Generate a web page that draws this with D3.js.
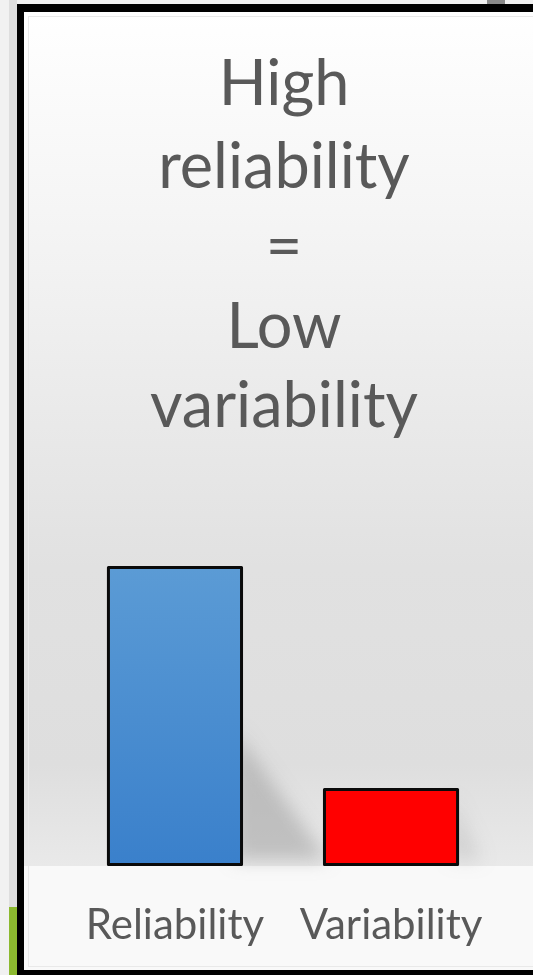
<!DOCTYPE html>
<html>
<head>
<meta charset="utf-8">
<script src="https://cdn.jsdelivr.net/npm/d3@7"></script>
<style>
  html, body { margin: 0; padding: 0; background: #f1f1f1; }
  svg { display: block; }
</style>
</head>
<body>
<svg id="chart" width="533" height="975"></svg>
<script>
// Chart content
const categories = ["Reliability", "Variability"];
const values = [100, 26];
const titleLines = ["High", "reliability", "=", "Low", "variability"];

const W = 533, H = 975;
const svg = d3.select("#chart");
const defs = svg.append("defs");

// plot background: white at top fading to grey near the floor
const bg = defs.append("linearGradient").attr("id", "bgGrad")
  .attr("x1", 0).attr("y1", 0).attr("x2", 0).attr("y2", 1);
[[0, "#ffffff"], [0.3, "#f2f2f2"], [0.65, "#e1e1e1"], [0.88, "#dedede"], [1, "#e9e9e9"]]
  .forEach(([o, c]) => bg.append("stop").attr("offset", o).attr("stop-color", c));

const blueGrad = defs.append("linearGradient").attr("id", "blueGrad")
  .attr("x1", 0).attr("y1", 0).attr("x2", 0).attr("y2", 1);
blueGrad.append("stop").attr("offset", 0).attr("stop-color", "#5b9bd5");
blueGrad.append("stop").attr("offset", 1).attr("stop-color", "#3a80cb");

defs.append("filter").attr("id", "soft").attr("x", "-50%").attr("y", "-50%")
  .attr("width", "200%").attr("height", "200%")
  .append("feGaussianBlur").attr("stdDeviation", 9);

// page surroundings
svg.append("rect").attr("width", W).attr("height", H).attr("fill", "#f1f1f1");
svg.append("rect").attr("x", 9).attr("y", 0).attr("width", 8).attr("height", H).attr("fill", "#dedede");
svg.append("rect").attr("x", 9).attr("y", 907).attr("width", 8).attr("height", H - 907).attr("fill", "#8cb92f");
svg.append("rect").attr("x", 487).attr("y", 0).attr("width", 18).attr("height", 4).attr("fill", "#8a8a8a");

// framed panel
svg.append("rect").attr("x", 17).attr("y", 4).attr("width", W).attr("height", H).attr("fill", "#000");
svg.append("rect").attr("x", 24).attr("y", 12).attr("width", W).attr("height", 958).attr("fill", "#f9f9f9");
const x = d3.scaleBand().domain(categories).range([27, 539]).paddingInner(0.37).paddingOuter(0.37);
const y = d3.scaleLinear().domain([0, 100]).range([866, 566]);
svg.append("rect").attr("x", 24).attr("y", 12).attr("width", W).attr("height", y(0) - 12).attr("fill", "url(#bgGrad)");
svg.append("rect").attr("x", 28.5).attr("y", 16.5).attr("width", W).attr("height", 950)
  .attr("fill", "none").attr("stroke", "#e9e9e9").attr("stroke-width", 1);

// cast shadows behind the bars
const shadows = svg.append("g").attr("filter", "url(#soft)");
categories.forEach((c, i) => {
  const right = x(c) + x.bandwidth();
  const top = y(values[i]);
  const h = y(0) - top;
  const reach = i === 0 ? 85 : 22;
  shadows.append("polygon")
    .attr("points", [
      [right - 8, top + h * (i === 0 ? 0.55 : 0.1)],
      [right - 8, y(0) - 6],
      [right + reach, y(0) - 6]
    ].map(p => p.join(",")).join(" "))
    .attr("fill", "#a0a0a0")
    .attr("opacity", i === 0 ? 0.55 : 0.3);
});

// bars
svg.append("g").selectAll("rect").data(categories).join("rect")
  .attr("x", d => x(d) + 1.5)
  .attr("y", (d, i) => y(values[i]) + 1.5)
  .attr("width", x.bandwidth() - 3)
  .attr("height", (d, i) => y(0) - y(values[i]) - 3)
  .attr("fill", (d, i) => i === 0 ? "url(#blueGrad)" : "#ff0000")
  .attr("stroke", "#0a0a0a")
  .attr("stroke-width", 3)
  .attr("stroke-linejoin", "round");

// category labels
svg.append("g").selectAll("text").data(categories).join("text")
  .attr("x", d => x(d) + x.bandwidth() / 2)
  .attr("y", 939)
  .attr("text-anchor", "middle")
  .attr("font-family", "Lato, 'Noto Sans', sans-serif")
  .attr("font-size", 42)
  .attr("fill", "#595959")
  .text(d => d);

// headline
const lineY = [105, 188, 268, 348, 427];
svg.append("g").selectAll("text").data(titleLines).join("text")
  .attr("x", 284)
  .attr("y", (d, i) => lineY[i])
  .attr("text-anchor", "middle")
  .attr("font-family", "Lato, 'Noto Sans', sans-serif")
  .attr("font-size", 63)
  .attr("fill", "#595959")
  .text(d => d);
</script>
</body>
</html>
